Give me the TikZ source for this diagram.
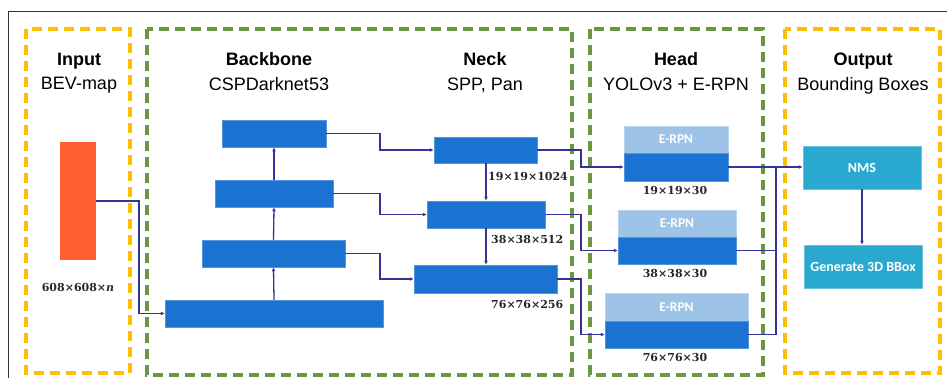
\documentclass[tikz,border=0pt]{standalone}
\usepackage{fontspec}
\setmainfont{Liberation Sans}
\newfontfamily\dimfont{DejaVu Serif}
\newfontfamily\boxfont{Carlito}
\usetikzlibrary{arrows.meta}
\definecolor{grpOrange}{HTML}{FFC000}
\definecolor{grpGreen}{HTML}{6A983F}
\definecolor{inRed}{HTML}{FF5E33}
\definecolor{blkBlue}{HTML}{1A73D1}
\definecolor{blkLight}{HTML}{9DC3E6}
\definecolor{outCyan}{HTML}{29A8D0}
\definecolor{wire}{HTML}{33339A}
\tikzset{
  grpO/.style={draw=grpOrange, line width=3.2pt, dash pattern=on 10pt off 6pt},
  grpG/.style={draw=grpGreen, line width=3.2pt, dash pattern=on 10pt off 6pt},
  blk/.style={fill=blkBlue, draw=blkBlue!75!white, line width=0.5pt, inner sep=0pt},
  erpn/.style={fill=blkLight, draw=blkLight!70!white, line width=0.5pt, inner sep=0pt,
    text=white, font=\boxfont\bfseries\fontsize{13.5}{15}\selectfont},
  outbox/.style={fill=outCyan, draw=outCyan!70!white, line width=0.5pt, inner sep=0pt,
    text=white, font=\boxfont\bfseries\fontsize{14}{16}\selectfont},
  conn/.style={draw=wire, line width=1.3pt, -{Latex[length=4pt,width=3.8pt]}},
  plain/.style={draw=wire, line width=1.3pt},
  ttl/.style={anchor=base, inner sep=0pt, font=\bfseries\fontsize{18}{20}\selectfont},
  sub/.style={anchor=base, inner sep=0pt, font=\fontsize{18}{20}\selectfont},
  dimlbl/.style={inner sep=0pt, font=\dimfont\bfseries\fontsize{11}{12}\selectfont, text=black!85}
}
\begin{document}
\begin{tikzpicture}[x=1pt, y=-1pt]
\useasboundingbox (0,0) rectangle (947,378);
% outer frame
\draw[black!80, line width=1pt] (947,11) -- (8,11) -- (8,378);

% stage groups
\draw[grpO] (26,29) rectangle (130,373);
\draw[grpG] (147,29) rectangle (572,375);
\draw[grpG] (590,29) rectangle (763,375);
\draw[grpO] (785,29) rectangle (940,373);

% stage titles
\node[ttl] (tIn) at (79,65) {Input};
\node[sub] (sIn) at (79,89) {BEV-map};
\node[ttl] (tBb) at (269,65) {Backbone};
\node[sub] (sBb) at (269,90) {CSPDarknet53};
\node[ttl] (tNk) at (485,65) {Neck};
\node[sub] (sNk) at (485,90) {SPP, Pan};
\node[ttl] (tHd) at (676,65) {Head};
\node[sub] (sHd) at (676,90) {YOLOv3 + E-RPN};
\node[ttl] (tOut) at (863,65) {Output};
\node[sub] (sOut) at (863,90) {Bounding Boxes};

% input map
\node[fill=inRed, inner sep=0pt, minimum width=36, minimum height=118] (inp) at (78,201) {};
\node[dimlbl] (inpl) at (78,287) {608×608×\textit{n}};

% backbone
\node[blk, minimum width=218, minimum height=27] (b1) at (274,313.5) {};
\node[blk, minimum width=143, minimum height=27] (b2) at (273.5,253.5) {};
\node[blk, minimum width=118, minimum height=27] (b3) at (274,193.5) {};
\node[blk, minimum width=104, minimum height=27] (b4) at (274,133.5) {};

% neck
\node[blk, minimum width=103, minimum height=26] (n1) at (485.5,150) {};
\node[blk, minimum width=118, minimum height=27] (n2) at (486,214.5) {};
\node[blk, minimum width=143, minimum height=28] (n3) at (485.5,279) {};
\node[dimlbl, anchor=west] (n1l) at (488,176) {19×19×1024};
\node[dimlbl, anchor=west] (n2l) at (491,239) {38×38×512};
\node[dimlbl, anchor=west] (n3l) at (491,304) {76×76×256};

% head
\node[erpn, minimum width=104, minimum height=27] (h1t) at (676,139.5) {E-RPN};
\node[blk, minimum width=104, minimum height=28] (h1) at (676,167) {};
\node[erpn, minimum width=118, minimum height=27] (h2t) at (677,223.5) {E-RPN};
\node[blk, minimum width=118, minimum height=27] (h2) at (677,250.5) {};
\node[erpn, minimum width=143, minimum height=28] (h3t) at (676.5,307) {E-RPN};
\node[blk, minimum width=143, minimum height=27] (h3) at (676.5,334.5) {};
\node[dimlbl] (h1l) at (675,190) {19×19×30};
\node[dimlbl] (h2l) at (675,273) {38×38×30};
\node[dimlbl] (h3l) at (675,357) {76×76×30};

% output
\node[outbox, minimum width=118, minimum height=43] (nms) at (862,167.5) {NMS};
\node[outbox, minimum width=118, minimum height=43] (gen) at (863,266.5) {Generate 3D BBox};

% routing columns
\coordinate (cIn) at (139,0);
\coordinate (cBN) at (380,0);
\coordinate (cNH) at (581,0);
\coordinate (cHO) at (776,0);

% connectors
\draw[conn] (inp.east) -- (inp.east -| cIn) |- (b1.west);
\draw[conn] (b1.north) -- (b2.south);
\draw[conn] (b2.north) -- (b3.south);
\draw[conn] (b3.north) -- (b4.south);

\draw[conn] (b4.east) -- (b4.east -| cBN) |- (n1.west);
\draw[conn] (b3.east) -- (b3.east -| cBN) |- (n2.west);
\draw[conn] (b2.east) -- (b2.east -| cBN) |- (n3.west);
\draw[conn] (n1.south -| n2.north) -- (n2.north);
\draw[conn] (n2.south) -- (n2.south |- n3.north);

\draw[conn] (n1.east) -- (n1.east -| cNH) |- (h1.west);
\draw[conn] (n2.east) -- (n2.east -| cNH) |- (h2.west);
\draw[conn] (n3.east) -- (n3.east -| cNH) |- (h3.west);

\draw[conn] (h1.east) -- (h1.east -| nms.west);
\draw[plain] (h2.east) -- (h2.east -| cHO);
\draw[plain] (h3.east) -| (h1.east -| cHO);
\draw[conn] (nms.south) -- (nms.south |- gen.north);
\end{tikzpicture}
\end{document}
